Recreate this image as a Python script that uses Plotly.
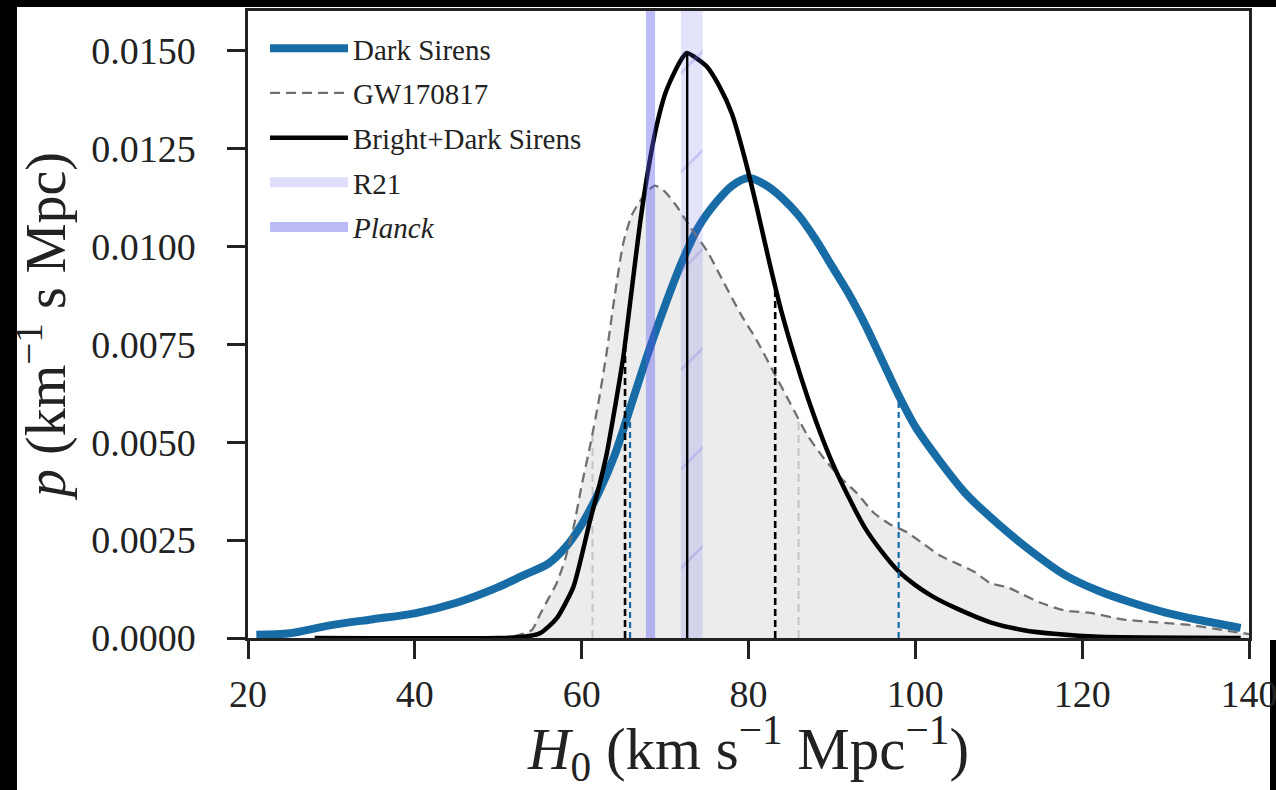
import numpy as np
import plotly.graph_objects as go

# ---------------- data ----------------
h_dark = [21, 25, 30, 35, 40, 45, 50, 53, 56, 58, 60, 62, 64, 66, 68, 70, 72, 74, 76, 78,
          80, 82, 84, 86, 88, 90, 92, 94, 96, 98, 100, 103, 106, 110, 114, 118, 122, 126,
          130, 134, 139]
p_dark = [0.00008, 0.00012, 0.00033, 0.00048, 0.00063, 0.0009, 0.0013, 0.0016, 0.0019,
          0.0023, 0.0029, 0.0037, 0.0047, 0.0060, 0.0073, 0.0085, 0.0096, 0.0105, 0.0111,
          0.01155, 0.01175, 0.01158, 0.01125, 0.0108, 0.0102, 0.0095, 0.0088, 0.0080,
          0.0071, 0.0062, 0.0054, 0.0045, 0.0037, 0.0029, 0.0022, 0.0016, 0.0012, 0.0009,
          0.00065, 0.00046, 0.00026]

h_gw = [50, 52, 54, 55, 56, 57, 58, 59, 60, 61, 62, 63, 64, 65, 66, 66.8, 67.8, 68.8, 70,
        71.5, 73, 75, 77, 79, 81, 83, 85, 87, 89, 91, 93, 95, 97, 99, 101, 103, 105, 107,
        109, 111, 113, 115, 118, 121, 125, 129, 133, 137, 140]
p_gw = [0.0, 0.00005, 0.0002, 0.0006, 0.0010, 0.0014, 0.0020, 0.0028, 0.0039, 0.0049,
        0.0060, 0.0073, 0.0088, 0.0101, 0.0108, 0.0111, 0.0114, 0.01156, 0.0114, 0.0110,
        0.0105, 0.0099, 0.0091, 0.0083, 0.0076, 0.0068, 0.0060, 0.0052, 0.0046, 0.0041,
        0.0037, 0.0032, 0.0029, 0.0027, 0.0024, 0.0021, 0.0019, 0.0017, 0.0014, 0.0013,
        0.0011, 0.0009, 0.0007, 0.00064, 0.00047, 0.0004, 0.00033, 0.0002, 0.0001]

h_bd = [28, 50, 53, 55, 57, 59, 60, 61, 62, 63, 64, 65, 66, 67, 68, 69, 70, 71, 72, 72.6,
        73.5, 75, 76.5, 78, 79.5, 81, 82.5, 84, 85.5, 87, 88.5, 90, 92, 94, 96, 98, 100,
        102, 105, 109, 113, 117, 122, 139]
p_bd = [0.0, 0.0, 0.00003, 0.00012, 0.0005, 0.0013, 0.0021, 0.0030, 0.0038, 0.0047,
        0.0059, 0.0072, 0.0089, 0.0106, 0.0120, 0.0131, 0.0139, 0.0144, 0.0148, 0.01495,
        0.01485, 0.0146, 0.0141, 0.0134, 0.0123, 0.0110, 0.0096, 0.0083, 0.0072, 0.0062,
        0.0053, 0.0045, 0.0036, 0.0028, 0.0022, 0.0017, 0.00135, 0.00107, 0.00075,
        0.0004, 0.0002, 0.0001, 0.00003, 0.0]

dark_bounds = [65.8, 98.0]
bd_bounds = [65.2, 83.2]
gw_bounds = [61.3, 86.0]
bd_median = [72.65]

r21_band = [71.9, 74.5]
planck_band = [67.7, 68.8]

x_ticks = [20, 40, 60, 80, 100, 120, 140]
y_ticks = [0.0, 0.0025, 0.0050, 0.0075, 0.0100, 0.0125, 0.0150]
x_range = [20, 140]
y_range = [0, 0.01602]

labels = ["Dark Sirens", "GW170817", "Bright+Dark Sirens", "R21", "<i>Planck</i>"]

# ---------------- figure ----------------
FONT = "Liberation Serif"
BLUE = "#176ca6"
R21_COL = "rgba(90,90,235,0.17)"
PLANCK_COL = "rgba(90,90,235,0.40)"

fig = go.Figure()

# grey fill under GW170817
fig.add_trace(go.Scatter(x=h_gw, y=p_gw, mode="lines", line=dict(width=0, shape="spline",
                         smoothing=0.6), fill="tozeroy", fillcolor="rgba(128,128,128,0.15)",
                         showlegend=False, hoverinfo="skip"))


def band(lo_hi, ymax):
    lo, hi = lo_hi
    return [lo, lo, hi, hi, lo], [0, ymax, ymax, 0, 0]


# light grey interval lines of GW170817
for b in gw_bounds:
    fig.add_trace(go.Scatter(x=[b, b], y=[0, float(np.interp(b, h_gw, p_gw))], mode="lines",
                             line=dict(color="#c4c4c4", width=2, dash="8px,5px"),
                             showlegend=False, hoverinfo="skip"))

# curves
fig.add_trace(go.Scatter(x=h_dark, y=p_dark, mode="lines", name=labels[0], legendgroup="a",
                         line=dict(color=BLUE, width=8, shape="spline", smoothing=0.8)))
fig.add_trace(go.Scatter(x=h_gw, y=p_gw, mode="lines", name=labels[1], legendgroup="b",
                         line=dict(color="#707070", width=2.3, dash="10px,6px",
                                   shape="spline", smoothing=0.6)))
fig.add_trace(go.Scatter(x=h_bd, y=p_bd, mode="lines", name=labels[2], legendgroup="c",
                         line=dict(color="black", width=4.5, shape="spline", smoothing=0.6)))

# bands
bx, by = band(r21_band, y_range[1])
fig.add_trace(go.Scatter(x=bx, y=by, mode="lines", fill="toself", showlegend=False,
                         line=dict(width=0), fillcolor=R21_COL,
                         fillpattern=dict(shape="/", size=70, solidity=0.04,
                                          fgcolor="rgba(120,120,215,0.55)",
                                          bgcolor=R21_COL),
                         hoverinfo="skip"))
bx, by = band(planck_band, y_range[1])
fig.add_trace(go.Scatter(x=bx, y=by, mode="lines", fill="toself", showlegend=False,
                         line=dict(width=0), fillcolor=PLANCK_COL, hoverinfo="skip"))
# legend entries for the two bands
fig.add_trace(go.Scatter(x=[None], y=[None], mode="lines", name=labels[3], legendgroup="d",
                         line=dict(color="rgba(90,90,235,0.2)", width=22)))
fig.add_trace(go.Scatter(x=[None], y=[None], mode="lines", name=labels[4], legendgroup="e",
                         line=dict(color="rgba(90,90,235,0.42)", width=22)))

# interval lines
for b in dark_bounds:
    fig.add_trace(go.Scatter(x=[b, b], y=[0, float(np.interp(b, h_dark, p_dark))], mode="lines",
                             line=dict(color=BLUE, width=2.2, dash="6px,4px"),
                             showlegend=False, hoverinfo="skip"))
for b in bd_bounds:
    fig.add_trace(go.Scatter(x=[b, b], y=[0, float(np.interp(b, h_bd, p_bd))], mode="lines",
                             line=dict(color="black", width=2.6, dash="7px,4px"),
                             showlegend=False, hoverinfo="skip"))
for b in bd_median:
    fig.add_trace(go.Scatter(x=[b, b], y=[0, float(np.interp(b, h_bd, p_bd))], mode="lines",
                             line=dict(color="black", width=2.4),
                             showlegend=False, hoverinfo="skip"))

axis_common = dict(showline=True, mirror=True, linecolor="#222", linewidth=2.5,
                   ticks="outside", ticklen=18, tickwidth=2.5, tickcolor="#222",
                   showgrid=False, zeroline=False, ticklabeloverflow="allow",
                   automargin=False,
                   tickfont=dict(family=FONT, size=38, color="#222"))

fig.update_layout(
    width=1276, height=790,
    margin=dict(l=248, r=27, t=11, b=152),
    paper_bgcolor="black", plot_bgcolor="white",
    showlegend=True,
    legend=dict(x=0.017, y=0.981, xanchor="left", yanchor="top", bgcolor="rgba(0,0,0,0)",
                font=dict(family=FONT, size=29, color="#222"), itemwidth=78,
                tracegroupgap=4, traceorder="grouped"),
    xaxis=dict(range=x_range, tickvals=x_ticks, ticklabelstandoff=3,
               title=dict(text="<i>H</i><sub>0</sub> (km s<sup>−1</sup> Mpc<sup>−1</sup>)",
                          font=dict(family=FONT, size=59, color="#222"), standoff=10),
               **axis_common),
    yaxis=dict(range=y_range, tickvals=y_ticks, tickformat=".4f", ticklabelstandoff=24,
               title=dict(text="<i>p</i> (km<sup>−1</sup> s Mpc)",
                          font=dict(family=FONT, size=56, color="#222"), standoff=8),
               **axis_common),
    shapes=[dict(type="rect", xref="paper", yref="paper", x0=-0.2308, x1=1.021,
                 y0=-0.35, y1=1.0064, fillcolor="white", line=dict(width=0), layer="below"),
            dict(type="rect", xref="paper", yref="paper", x0=1.0, x1=1.06,
                 y0=-0.003, y1=1.0064, fillcolor="white", line=dict(width=0), layer="below")],
)

fig.write_html("out.html", config={"displayModeBar": False},
               post_script="document.body.style.margin='0';document.body.style.overflow='hidden';")
